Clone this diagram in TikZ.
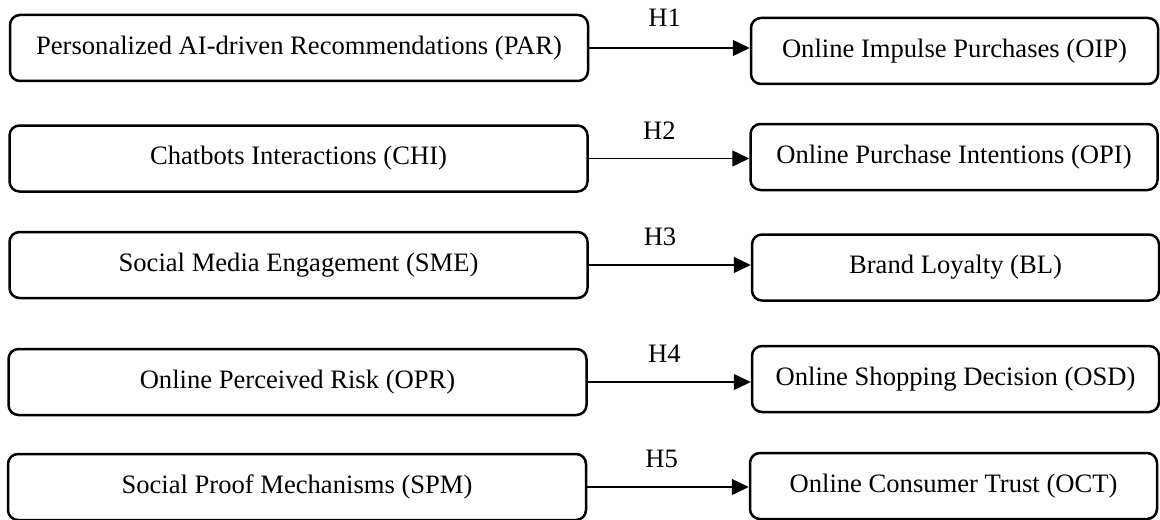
\documentclass[tikz,border=0pt]{standalone}
\usepackage{fontspec}
\setmainfont{Liberation Serif}
\usetikzlibrary{arrows.meta}
\begin{document}
\begin{tikzpicture}[x=0.5pt,y=-0.5pt,
  box/.style={draw=black, line width=1.25pt, rounded corners=5pt, minimum height=33pt, inner sep=0pt, font=\fontsize{13.3}{15}\selectfont},
  lbox/.style={box, minimum width=289pt},
  rbox/.style={box, minimum width=203.5pt},
  conn/.style={draw=black, line width=0.7pt, -{Triangle[length=8.5pt,width=8pt]}},
  hlab/.style={font=\fontsize{13.3}{15}\selectfont, inner sep=0pt}
]
\useasboundingbox (0,0) rectangle (1160,519);
\node[lbox] (PAR) at (299,48) {Personalized AI-driven Recommendations (PAR)};
\node[rbox] (OIP) at (954.5,51) {Online Impulse Purchases (OIP)};
\node[lbox] (CHI) at (298.5,158.5) {Chatbots Interactions (CHI)};
\node[rbox] (OPI) at (954,157) {Online Purchase Intentions (OPI)};
\node[lbox] (SME) at (298.5,265) {Social Media Engagement (SME)};
\node[rbox] (BL) at (955.5,267.5) {Brand Loyalty (BL)};
\node[lbox] (OPR) at (297.5,382) {Online Perceived Risk (OPR)};
\node[rbox] (OSD) at (955.5,379) {Online Shopping Decision (OSD)};
\node[lbox] (SPM) at (297,487) {Social Proof Mechanisms (SPM)};
\node[rbox] (OCT) at (953.5,486) {Online Consumer Trust (OCT)};
\draw[conn] (PAR.east) -- (PAR.east -| OIP.west) node[hlab, pos=0.47, yshift=15pt] {H1};
\draw[conn] (CHI.east) -- (CHI.east -| OPI.west) node[hlab, pos=0.44, yshift=14pt] {H2};
\draw[conn] (SME.east) -- (SME.east -| BL.west) node[hlab, pos=0.44, yshift=14pt] {H3};
\draw[conn] (OPR.east) -- (OPR.east -| OSD.west) node[hlab, pos=0.47, yshift=14pt] {H4};
\draw[conn] (SPM.east) -- (SPM.east -| OCT.west) node[hlab, pos=0.46, yshift=14pt] {H5};
\end{tikzpicture}
\end{document}
